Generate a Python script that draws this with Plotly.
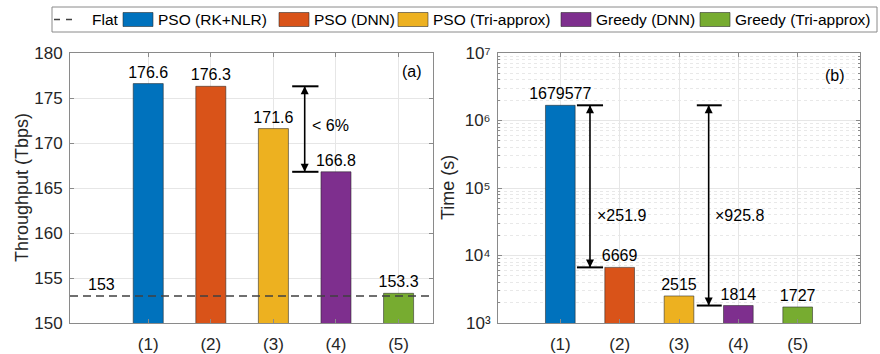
import math
import plotly.graph_objects as go

# ---------------- data ----------------
categories = ["(1)", "(2)", "(3)", "(4)", "(5)"]
positions = [1, 2, 3, 4, 5]
methods = ["PSO (RK+NLR)", "PSO (DNN)", "PSO (Tri-approx)", "Greedy (DNN)", "Greedy (Tri-approx)"]
colors = ["#0072BD", "#D95319", "#EDB120", "#7E2F8E", "#77AC30"]
throughput = [176.6, 176.3, 171.6, 166.8, 153.3]
time_s = [1679577, 6669, 2515, 1814, 1727]
throughput_labels = ["176.6", "176.3", "171.6", "166.8", "153.3"]
time_labels = ["1679577", "6669", "2515", "1814", "1727"]
flat_throughput = 153
left_ticks = [150, 155, 160, 165, 170, 175, 180]
time_ticks = [1e3, 1e4, 1e5, 1e6, 1e7]
time_ticktext = ["10\u00b3", "10\u2074", "10\u2075", "10\u2076", "10\u2077"]
gap_left_text = "< 6%"
gap_right_texts = ["\u00d7251.9", "\u00d7925.8"]

# ---------------- layout constants ----------------
W, H = 880, 354
ML, MR, MT, MB = 70, 20, 53, 31
PW = W - ML - MR
PH = H - MT - MB
FONT = "Liberation Sans, Arial, Helvetica, sans-serif"
AXC = "#8a8a8a"
GRIDC = "#e6e6e6"
LX_RANGE = [-0.25, 5.55]
RX_RANGE = [-0.05, 6.05]
VAL_SIZE = 16
LEG_SIZE = 15.5


def px2x(px):
    return (px - ML) / PW


def py2y(py):
    return (H - MB - py) / PH


fig = go.Figure()

# bars with value labels on top
for i in range(5):
    fig.add_trace(go.Bar(x=[positions[i]], y=[throughput[i]], width=0.48,
                         text=[throughput_labels[i]], textposition="outside", constraintext="none",
                         cliponaxis=False, textfont=dict(size=VAL_SIZE, color="black", family=FONT),
                         marker=dict(color=colors[i], line=dict(color="rgba(40,40,40,0.7)", width=0.8)),
                         xaxis="x", yaxis="y", showlegend=False, hoverinfo="skip"))
    fig.add_trace(go.Bar(x=[positions[i]], y=[time_s[i]], width=0.5,
                         text=[time_labels[i]], textposition="outside", constraintext="none",
                         cliponaxis=False, textfont=dict(size=VAL_SIZE, color="black", family=FONT),
                         marker=dict(color=colors[i], line=dict(color="rgba(40,40,40,0.7)", width=0.8)),
                         xaxis="x2", yaxis="y2", showlegend=False, hoverinfo="skip"))

# flat line
fig.add_trace(go.Scatter(x=LX_RANGE, y=[flat_throughput, flat_throughput], mode="lines",
                         line=dict(color="#404040", width=1.5, dash="8px,5px"),
                         xaxis="x", yaxis="y", showlegend=False, hoverinfo="skip"))


# caps for arrows
def cap(x0, x1, y, xa, ya):
    fig.add_trace(go.Scatter(x=[x0, x1], y=[y, y], mode="lines",
                             line=dict(color="black", width=2),
                             xaxis=xa, yaxis=ya, showlegend=False, hoverinfo="skip"))


cap(3.30, 3.72, throughput[1], "x", "y")
cap(3.30, 3.72, throughput[3], "x", "y")
cap(1.28, 1.72, time_s[0], "x2", "y2")
cap(1.28, 1.72, time_s[1], "x2", "y2")
cap(3.30, 3.72, time_s[0], "x2", "y2")
cap(3.30, 3.72, time_s[3], "x2", "y2")


# double arrows (shaft + heads whose tips touch the caps)
def darrow(x, ytop, ybot, xa, ya):
    fig.add_trace(go.Scatter(x=[x, x], y=[ytop, ybot], mode="lines",
                             line=dict(color="black", width=1.6),
                             xaxis=xa, yaxis=ya, showlegend=False, hoverinfo="skip"))
    fig.add_trace(go.Scatter(x=[x, x], y=[ytop, ybot], mode="markers",
                             marker=dict(symbol=["arrow-up", "arrow-down"], size=8, color="black",
                                         line=dict(width=0)),
                             xaxis=xa, yaxis=ya, showlegend=False, hoverinfo="skip"))


darrow(3.5, throughput[1], throughput[3], "x", "y")
darrow(1.5, time_s[0], time_s[1], "x2", "y2")
darrow(3.5, time_s[0], time_s[3], "x2", "y2")

annotations = []
annotations.append(dict(x=0.26, y=flat_throughput, xref="x", yref="y", text=str(flat_throughput),
                        showarrow=False, yanchor="bottom", xanchor="center", yshift=1,
                        font=dict(size=VAL_SIZE, color="black", family=FONT)))

annotations.append(dict(x=3.59, y=172.0, xref="x", yref="y", text=gap_left_text, showarrow=False,
                        xanchor="left", yanchor="middle", font=dict(size=VAL_SIZE, color="black", family=FONT)))
annotations.append(dict(x=1.58, y=4.6, xref="x2", yref="y2", text=gap_right_texts[0], showarrow=False,
                        xanchor="left", yanchor="middle", font=dict(size=VAL_SIZE, color="black", family=FONT)))
annotations.append(dict(x=3.58, y=4.6, xref="x2", yref="y2", text=gap_right_texts[1], showarrow=False,
                        xanchor="left", yanchor="middle", font=dict(size=VAL_SIZE, color="black", family=FONT)))

# panel labels
annotations.append(dict(x=0.942, y=0.93, xref="x domain", yref="y domain", text="(a)", showarrow=False,
                        xanchor="center", yanchor="middle", font=dict(size=16, color="black", family=FONT)))
annotations.append(dict(x=0.931, y=0.918, xref="x2 domain", yref="y2 domain", text="(b)", showarrow=False,
                        xanchor="center", yanchor="middle", font=dict(size=16, color="black", family=FONT)))

# axis titles
annotations.append(dict(x=px2x(22), y=0.5, xref="paper", yref="paper", text="Throughput (Tbps)",
                        textangle=-90, showarrow=False, xanchor="center", yanchor="middle",
                        font=dict(size=18, color="#262626", family=FONT)))
annotations.append(dict(x=px2x(448), y=0.5, xref="paper", yref="paper", text="Time (s)",
                        textangle=-90, showarrow=False, xanchor="center", yanchor="middle",
                        font=dict(size=18, color="#262626", family=FONT)))

# ---------------- manual legend ----------------
shapes = []
leg_top, leg_bot = 7, 32
leg_mid = (leg_top + leg_bot) / 2
shapes.append(dict(type="rect", xref="paper", yref="paper", x0=px2x(52), x1=px2x(877),
                   y0=py2y(leg_bot), y1=py2y(leg_top), line=dict(color="#8a8a8a", width=1),
                   fillcolor="white", layer="above"))
shapes.append(dict(type="line", xref="paper", yref="paper", x0=px2x(54), x1=px2x(76),
                   y0=py2y(leg_mid), y1=py2y(leg_mid), line=dict(color="#404040", width=1.5, dash="6px,6px")))
annotations.append(dict(x=px2x(90), y=py2y(leg_mid), xref="paper", yref="paper", text="Flat",
                        showarrow=False, xanchor="left", yanchor="middle",
                        font=dict(size=LEG_SIZE, color="black", family=FONT)))
swatch_left = [123, 279, 398, 561, 700]
for i in range(5):
    sx = swatch_left[i]
    shapes.append(dict(type="rect", xref="paper", yref="paper", x0=px2x(sx), x1=px2x(sx + 30),
                       y0=py2y(leg_mid + 7), y1=py2y(leg_mid - 7), fillcolor=colors[i],
                       line=dict(color="rgba(40,40,40,0.7)", width=0.8), layer="above"))
    annotations.append(dict(x=px2x(sx + 33), y=py2y(leg_mid), xref="paper", yref="paper", text=methods[i],
                            showarrow=False, xanchor="left", yanchor="middle",
                            font=dict(size=LEG_SIZE, color="black", family=FONT)))

axis_common = dict(showline=True, linecolor=AXC, linewidth=1, mirror="ticks", ticks="inside",
                   tickcolor=AXC, ticklen=4, showgrid=True, gridcolor=GRIDC, zeroline=False,
                   automargin=False,
                   tickfont=dict(size=17, color="#262626", family=FONT))

fig.update_layout(
    width=W, height=H,
    margin=dict(l=ML, r=MR, t=MT, b=MB, autoexpand=False),
    paper_bgcolor="white", plot_bgcolor="white",
    barmode="overlay",
    showlegend=False,
    font=dict(family=FONT),
    xaxis=dict(domain=[0, px2x(433)], range=LX_RANGE, tickvals=positions, ticktext=categories,
               anchor="y", ticklabelstandoff=6, **axis_common),
    yaxis=dict(domain=[0, 1], range=[150, 180], tickvals=left_ticks, anchor="x",
               ticklabelstandoff=3, **axis_common),
    xaxis2=dict(domain=[px2x(498), 1], range=RX_RANGE, tickvals=positions, ticktext=categories,
                anchor="y2", ticklabelstandoff=6, **axis_common),
    yaxis2=dict(domain=[0, 1], type="log", range=[3, 7], tickvals=time_ticks, ticktext=time_ticktext,
                anchor="x2", ticklabelstandoff=3,
                minor=dict(tickvals=[k * 10 ** n for n in range(3, 7) for k in range(2, 10)],
                           ticks="inside", ticklen=2, tickcolor=AXC, showgrid=True,
                           gridcolor="#e8e8e8", griddash="dot", gridwidth=1),
                **axis_common),
    annotations=annotations,
    shapes=shapes,
)

fig.write_html("out.html")
